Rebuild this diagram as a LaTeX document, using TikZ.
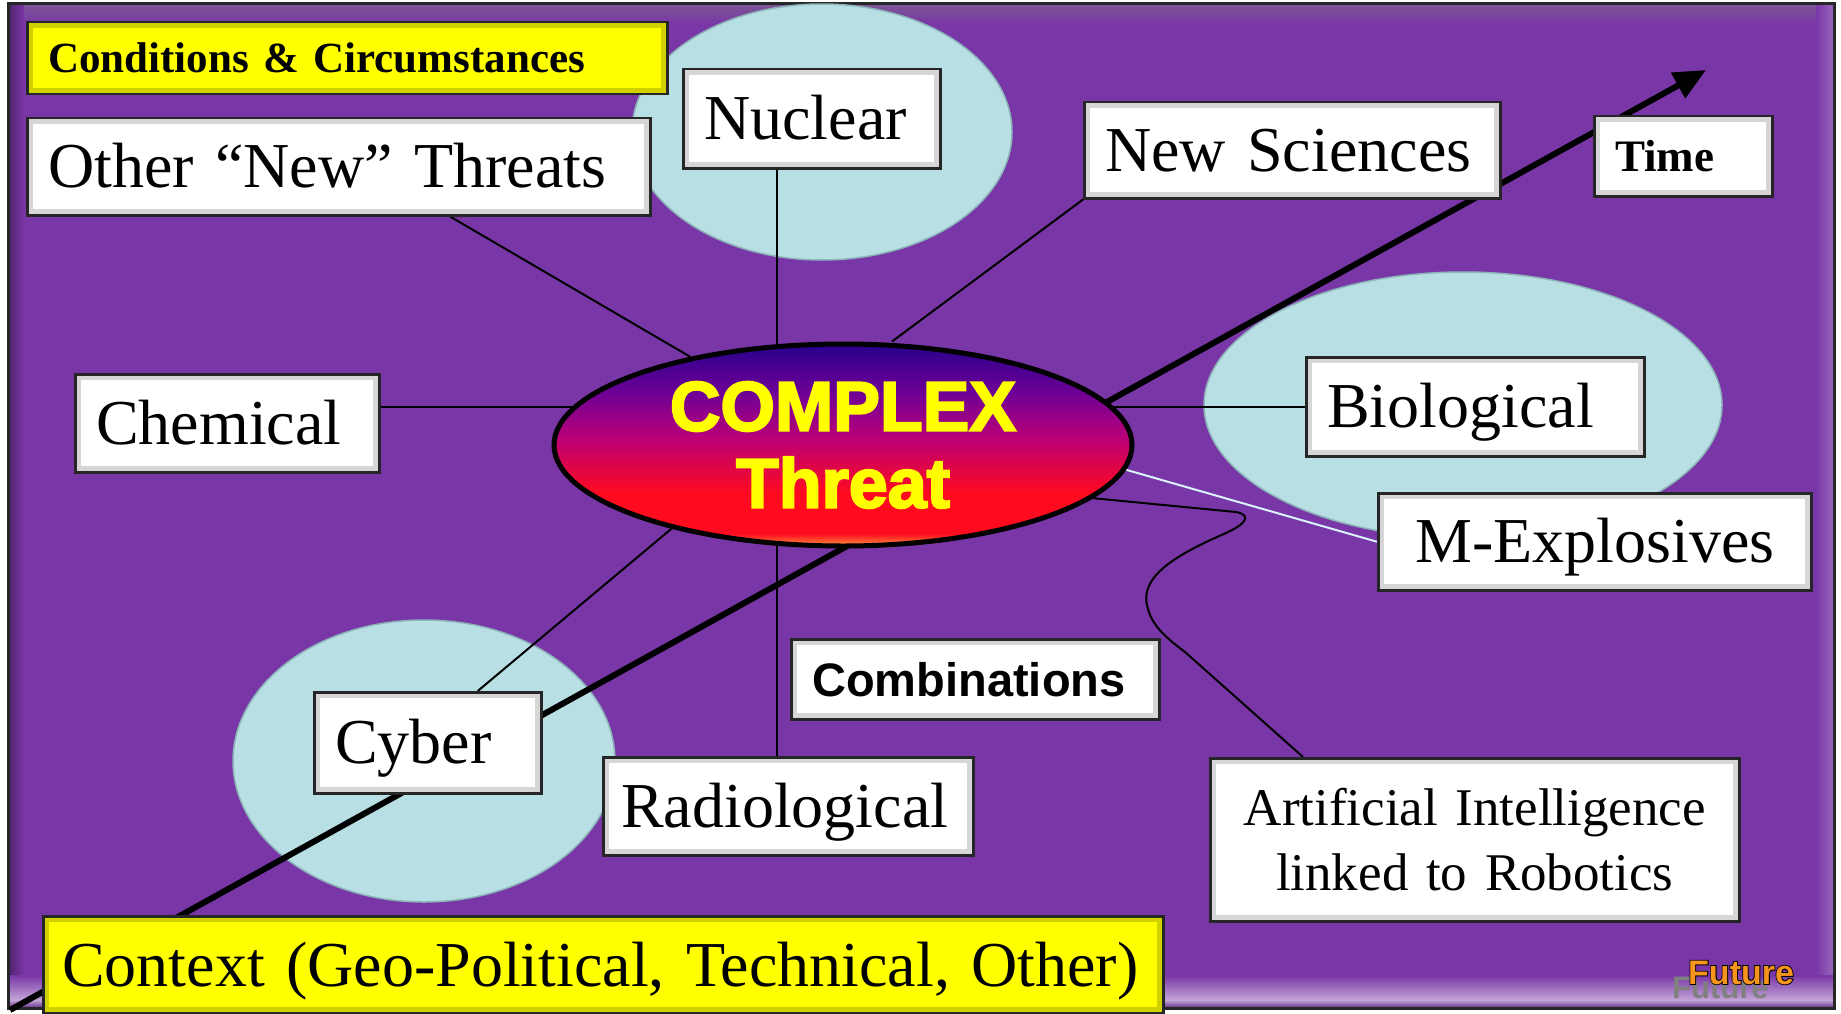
\documentclass[tikz,border=0pt]{standalone}
\usepackage{fontspec}
\setmainfont{Liberation Serif}
\newfontfamily\arialfont{Liberation Sans}
\newfontfamily\heavyfont[FakeBold=3]{Liberation Sans Bold}
\newfontfamily\rimfont[FakeBold=5]{Liberation Sans Bold}
\usetikzlibrary{shapes.geometric,arrows.meta}
\hyphenpenalty=10000
\exhyphenpenalty=10000

\definecolor{framepurple}{RGB}{121,54,167}
\definecolor{paleblue}{RGB}{184,223,227}
\definecolor{paleedge}{RGB}{140,180,184}
\definecolor{signyellow}{RGB}{255,255,0}
\definecolor{futureorange}{RGB}{247,148,29}
\definecolor{tIndigo}{RGB}{40,0,140}
\definecolor{tPurple}{RGB}{110,0,150}
\definecolor{tMagenta}{RGB}{185,0,120}
\definecolor{tRed}{RGB}{255,10,30}
\definecolor{tOrange}{RGB}{255,150,60}

\pgfdeclareverticalshading{threatshade}{100bp}{color(0bp)=(tOrange); color(25bp)=(tOrange); color(28bp)=(tRed); color(38bp)=(tRed); color(52bp)=(tMagenta); color(63bp)=(tPurple); color(75bp)=(tIndigo); color(100bp)=(tIndigo)}

\pgfdeclarelayer{backdrop}
\pgfdeclarelayer{links}
\pgfsetlayers{backdrop,links,main}

\tikzset{
  plate/.style={draw=black!85, line width=2.5pt, anchor=north west,
    inner xsep=21pt, inner ysep=0pt, align=left},
  bevelled/.style={path picture={\draw[#1, line width=12pt]
    (path picture bounding box.south west) rectangle (path picture bounding box.north east);}},
  tbox/.style={plate, fill=white, bevelled=black!16,
    font=\fontsize{64}{70}\selectfont, text height=42pt, text depth=0pt},
  ybox/.style={plate, fill=signyellow, bevelled=signyellow!82!black,
    text depth=0pt},
  aibox/.style={plate, fill=white, bevelled=black!16, align=center,
    font=\fontsize{53}{65}\selectfont},
  spoke/.style={draw=black, line width=2pt},
  timeline/.style={draw=black, line width=6pt, -{Triangle[length=32pt,width=28pt]}},
  futurefont/.style={anchor=base west, inner sep=0pt,
    font=\arialfont\bfseries\fontsize{34}{38}\selectfont},
}

\begin{document}
\begin{tikzpicture}[x=1pt, y=-1pt]
\useasboundingbox (0,0) rectangle (1841,1014);

\begin{pgfonlayer}{backdrop}
% Marco
\fill[white] (0,0) rectangle (1841,1014);
\fill[framepurple] (8,4) rectangle (1834,1008);
\shade[top color=framepurple!55!gray, bottom color=framepurple] (8,4) rectangle (1834,24);
\shade[left color=framepurple!65!black, right color=framepurple] (8,4) rectangle (24,1008);
\shade[left color=framepurple, right color=framepurple!75!white] (1816,4) rectangle (1834,1008);
\shade[top color=framepurple, bottom color=framepurple!45!white] (8,975) rectangle (1834,1000);
\shade[top color=framepurple!45!white, bottom color=framepurple!80!black] (8,1000) rectangle (1834,1008);
\draw[black!85, line width=3pt] (8,4) rectangle (1834,1008);

% Elipses de fondo
\filldraw[fill=paleblue, draw=paleedge, line width=1.5pt] (822,132) ellipse [x radius=190, y radius=128];
\filldraw[fill=paleblue, draw=paleedge, line width=1.5pt] (1463,405) ellipse [x radius=259, y radius=133];
\filldraw[fill=paleblue, draw=paleedge, line width=1.5pt] (424,761) ellipse [x radius=191, y radius=141];
\end{pgfonlayer}

% Amenaza central
\node[ellipse, draw=black, line width=5pt, shade, shading=threatshade,
  minimum width=578pt, minimum height=202pt, inner sep=0pt, align=center,
  text=signyellow, font=\heavyfont\fontsize{70}{77}\selectfont]
  (complex) at (843,445) {COMPLEX\\Threat};

% Cajas
\node[ybox, text width=598pt, minimum height=72pt,
  font=\bfseries\fontsize{43}{48}\selectfont, text height=28pt] (cond) at (26,21) {Conditions \& Circumstances};
\node[tbox, text width=581pt, minimum height=97pt] (other) at (26,117) {\mbox{Other “New” Threats}};
\node[tbox, text width=215pt, minimum height=99pt] (nuclear) at (682,68) {Nuclear};
\node[tbox, text width=374pt, minimum height=96pt] (sci) at (1083,101) {\mbox{New Sciences}};
\node[tbox, text width=136pt, minimum height=80pt,
  font=\bfseries\fontsize{45}{50}\selectfont, text height=30pt] (time) at (1593,115) {Time};
\node[tbox, text width=262pt, minimum height=98pt] (chem) at (74,373) {Chemical};
\node[tbox, text width=296pt, minimum height=99pt] (bio) at (1305,356) {Biological};
\node[tbox, inner xsep=30pt, text width=373pt, align=center, minimum height=97pt] (mexp) at (1377,492) {\mbox{M-Explosives}};
\node[tbox, text width=185pt, minimum height=101pt] (cyber) at (313,691) {Cyber};
\node[tbox, inner xsep=18pt, text width=334pt, minimum height=98pt] (radio) at (602,756) {Radiological};
\node[tbox, text width=326pt, minimum height=80pt,
  font=\arialfont\bfseries\fontsize{47}{50}\selectfont, text height=34pt] (combo) at (790,638) {Combinations};
\node[aibox, inner xsep=10pt, text width=509pt, minimum height=163pt] (ai) at (1209,757)
  {Artificial Intelligence\\linked to Robotics};
\node[ybox, inner xsep=19pt, text width=1082pt, minimum height=97pt,
  font=\fontsize{64}{70}\selectfont, text height=43pt] (context) at (42,915)
  {\mbox{Context (Geo-Political, Technical, Other)}};

% Marca
\node[futurefont, text=gray, font=\arialfont\bfseries\fontsize{31}{34}\selectfont] (futshadow) at (1672,998) {Future};
\node[futurefont, text=black, font=\rimfont\fontsize{34}{38}\selectfont] (futrim) at (1688,984) {Future};
\node[futurefont, text=futureorange] (future) at (1688,984) {Future};

\begin{pgfonlayer}{links}
% Flecha del tiempo
\coordinate (tstart) at (10,1010);
\coordinate (tend) at (1706,70);
\draw[timeline] (tstart) -- (tend);

% Conectores
\coordinate (axis) at (777,0);
\draw[spoke] (axis |- nuclear.south) -- (axis |- complex);
\draw[spoke] (axis |- radio.north) -- (axis |- complex);
\draw[spoke] ([xshift=424pt]other.south west) -- (complex.150);
\draw[spoke] (sci.south west) -- ([xshift=49pt]complex.north);
\draw[spoke] (chem.6) -- (chem.6 -| complex);
\draw[spoke] (bio.west) -- (bio.west -| complex);
\draw[spoke, draw=white!85!cyan] (mexp.west) -- (complex.-5);
\draw[spoke] ([xshift=50pt]cyber.north) -- (complex.206);
\draw[spoke] (complex.-12) -- (1236,512)
  .. controls (1252,515) and (1246,524) .. (1226,533)
  .. controls (1180,553) and (1140,575) .. (1147,605)
  .. controls (1151,625) and (1165,637) .. (1185,652)
  -- ([xshift=94pt]ai.north west);
\end{pgfonlayer}
\end{tikzpicture}
\end{document}
